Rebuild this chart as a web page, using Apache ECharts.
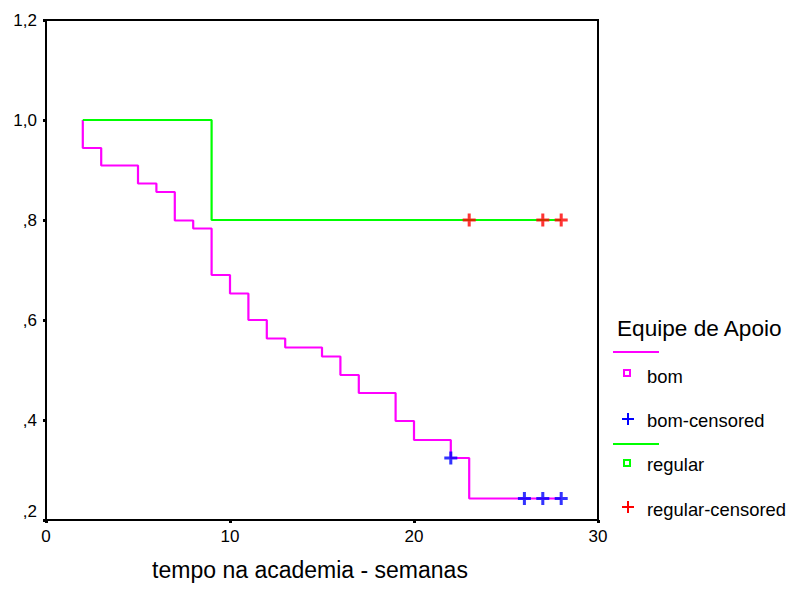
<!DOCTYPE html>
<html><head><meta charset="utf-8">
<script src="https://cdn.jsdelivr.net/npm/echarts@6/dist/echarts.min.js"></script>
<style>html,body{margin:0;padding:0;background:#fff}#c{width:790px;height:608px}</style>
</head><body><div id="c"></div>
<script>
// ---- data ----
const xTicks = [0, 10, 20, 30];
const yTicks = [0.2, 0.4, 0.6, 0.8, 1.0, 1.2];
const bomStart = 2;
const bomTimes = [2, 3, 5, 6, 7, 8, 9, 10, 11, 12, 13, 15, 16, 17, 19, 20, 22, 23];
const bomSurv  = [0.944, 0.909, 0.873, 0.856, 0.799, 0.783, 0.690, 0.653, 0.600, 0.563, 0.545, 0.527, 0.490, 0.454, 0.398, 0.360, 0.324, 0.243];
const bomEnd = 28;
const bomCensTimes = [22, 26, 27, 28];
const bomCensSurv  = [0.324, 0.243, 0.243, 0.243];
const regStart = 2;
const regTimes = [9];
const regSurv  = [0.800];
const regEnd = 28;
const regCensTimes = [23, 27, 28];
const regCensSurv  = [0.800, 0.800, 0.800];

const legendTitle = 'Equipe de Apoio';
const legendNames = ['bom', 'bom-censored', 'regular', 'regular-censored'];
const xTitle = 'tempo na academia - semanas';

// ---- build ----
function steps(start, times, surv, end) {
  const pts = [[start, 1.0]];
  let prev = 1.0;
  for (let i = 0; i < times.length; i++) {
    pts.push([times[i], prev]);
    pts.push([times[i], surv[i]]);
    prev = surv[i];
  }
  pts.push([end, prev]);
  return pts;
}
function pairs(a, b) { return a.map((v, i) => [v, b[i]]); }

const PINK = '#FF00FF', GREEN = '#00FF00', BLUE = '#0000FF', RED = '#FF0000';
const FONT = 'Liberation Sans, Arial, sans-serif';
const plus = 'path://M4.6,0H7.4V4.6H12V7.4H7.4V12H4.6V7.4H0V4.6H4.6Z';
function plusPts(cx, cy) {
  const a = 6, t = 1;
  return [[cx - t, cy - a], [cx + t, cy - a], [cx + t, cy - t], [cx + a, cy - t], [cx + a, cy + t], [cx + t, cy + t],
          [cx + t, cy + a], [cx - t, cy + a], [cx - t, cy + t], [cx - a, cy + t], [cx - a, cy - t], [cx - t, cy - t]];
}

function fmtY(v) {
  let s = (Math.round(v * 10) / 10).toFixed(1);
  if (s.startsWith('0')) s = s.slice(1);
  return s.replace('.', ',');
}

const chart = echarts.init(document.getElementById('c'), null, {renderer: 'svg'});
const option = {
  animation: false,
  backgroundColor: '#fff',
  grid: {left: 46, top: 20, right: 192, bottom: 88, show: true, borderColor: '#000', borderWidth: 2, containLabel: false},
  xAxis: {
    type: 'value', min: xTicks[0], max: xTicks[xTicks.length - 1], interval: 10,
    axisLine: {show: true, onZero: false, lineStyle: {color: '#000', width: 2}},
    axisTick: {show: true, length: 3, lineStyle: {color: '#000', width: 3}},
    axisLabel: {color: '#000', fontSize: 17, fontFamily: FONT, margin: 8},
    splitLine: {show: false}
  },
  yAxis: {
    type: 'value', min: yTicks[0], max: yTicks[yTicks.length - 1], interval: 0.2,
    axisLine: {show: true, onZero: false, lineStyle: {color: '#000', width: 2}},
    axisTick: {show: true, length: 3, lineStyle: {color: '#000', width: 3}},
    axisLabel: {color: '#000', fontSize: 17, fontFamily: FONT, margin: 9, formatter: fmtY, verticalAlignMinLabel: 'bottom'},
    splitLine: {show: false}
  },
  series: [
    {type: 'line', data: steps(bomStart, bomTimes, bomSurv, bomEnd), showSymbol: false, lineStyle: {color: PINK, width: 2.2}, z: 2},
    {type: 'line', data: steps(regStart, regTimes, regSurv, regEnd), showSymbol: false, lineStyle: {color: GREEN, width: 2.2}, z: 2},
    {type: 'scatter', data: pairs(bomCensTimes, bomCensSurv), symbol: plus, symbolSize: 13, itemStyle: {color: BLUE}, z: 3},
    {type: 'scatter', data: pairs(regCensTimes, regCensSurv), symbol: plus, symbolSize: 13, itemStyle: {color: RED}, z: 3}
  ],
  graphic: [
    {type: 'text', x: 310, y: 570, style: {text: xTitle, font: '23px ' + FONT, fill: '#000', align: 'center', verticalAlign: 'middle'}},
    {type: 'text', x: 617, y: 328, style: {text: legendTitle, font: '22.6px ' + FONT, fill: '#000', verticalAlign: 'middle'}},
    {type: 'line', shape: {x1: 613, y1: 352, x2: 659, y2: 352}, style: {stroke: PINK, lineWidth: 2}},
    {type: 'rect', shape: {x: 624, y: 370, width: 6, height: 6}, style: {fill: 'none', stroke: PINK, lineWidth: 2}},
    {type: 'text', x: 647, y: 376, style: {text: legendNames[0], font: '18.4px ' + FONT, fill: '#000', verticalAlign: 'middle'}},
    {type: 'polygon', shape: {points: plusPts(628, 419)}, style: {fill: BLUE}},
    {type: 'text', x: 647, y: 420, style: {text: legendNames[1], font: '18.4px ' + FONT, fill: '#000', verticalAlign: 'middle'}},
    {type: 'line', shape: {x1: 613, y1: 444, x2: 659, y2: 444}, style: {stroke: GREEN, lineWidth: 2}},
    {type: 'rect', shape: {x: 624, y: 460, width: 6, height: 6}, style: {fill: 'none', stroke: GREEN, lineWidth: 2}},
    {type: 'text', x: 647, y: 464, style: {text: legendNames[2], font: '18.4px ' + FONT, fill: '#000', verticalAlign: 'middle'}},
    {type: 'polygon', shape: {points: plusPts(628, 507)}, style: {fill: RED}},
    {type: 'text', x: 647, y: 509, style: {text: legendNames[3], font: '18.4px ' + FONT, fill: '#000', verticalAlign: 'middle'}}
  ]
};
chart.setOption(option);
</script>
</body></html>
